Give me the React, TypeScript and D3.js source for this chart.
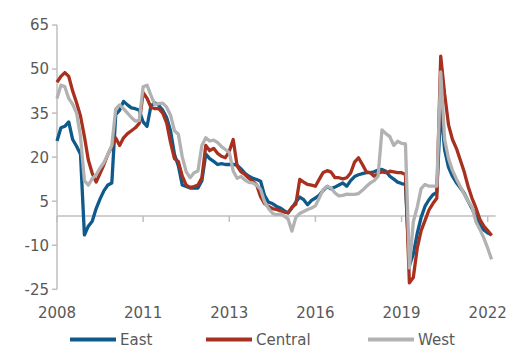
import * as d3 from "d3"

// regional series, one value per step along the x axis
const east = [25.5, 30, 30.5, 32, 26, 23.7, 21, -6.5, -3.5, -1.8,
  2.5, 5.8, 8.6, 10.5, 11.2, 34.5, 36, 39, 37.8, 36.8,
  36.5, 36, 32, 30.5, 37.5, 38.5, 37.6, 36, 33.5, 29,
  21, 17, 10.5, 10, 9.5, 9.5, 9.5, 12, 21, 19.5,
  18.6, 17.5, 17.8, 17.5, 17.5, 17.5, 17.3, 16, 14.5, 13.5,
  12.8, 12.4, 11.8, 7, 4.7, 4.2, 3.3, 2.7, 1.8, 1,
  2.7, 4.7, 6.4, 5.5, 3.8, 5.3, 6.1, 7.1, 8.7, 10,
  9.2, 9.8, 10.5, 11.2, 10.1, 12, 13.4, 14, 14.4, 14.7,
  14.7, 15, 15.6, 15.8, 15.2, 13.5, 12.5, 11.5, 11, 10.7,
  -17, -13, -6, -0.5, 3.3, 5.5, 7.2, 8, 36.8, 22.5,
  16.5, 13.5, 11.3, 9.6, 7.7, 5, 2.5, -0.3, -3.2, -4.8, -5.8, -6.4]

const central = [45.5, 47.5, 48.8, 47.5, 42.5, 38.5, 34, 27, 19, 14.5,
  11.5, 14.5, 17.5, 21, 23.5, 26.5, 24, 26.6, 28, 29,
  30, 31.5, 42, 40, 37, 36.5, 36.5, 35, 31.7, 25,
  19.5, 18.5, 13.5, 10.5, 9.7, 10, 10.5, 13, 24, 22.2,
  23, 21.3, 20.3, 19.8, 22, 26, 17, 15, 14.1, 12.8,
  11.8, 10.5, 6.5, 4.2, 3.2, 2.5, 2.2, 1.8, 1.3, 1,
  3, 4, 12.4, 11.5, 10.7, 10.5, 10.1, 12.5, 14.8, 15.4,
  14.9, 13, 13, 12.6, 13, 14.6, 18.3, 19.8, 17.5, 15,
  14.7, 13.5, 14.5, 15, 14.7, 15.2, 15, 14.7, 14.7, 14.1,
  -22.8, -21, -11, -5, -1.5, 2, 4.2, 6, 54.4, 41.5,
  31, 26, 23, 19, 15, 10, 6, 2.7, -1.2, -3.5, -5, -6.7]

const west = [40, 44.5, 44, 40, 38, 35, 27, 12, 10.5, 12.7,
  14, 16.3, 18.2, 21, 24, 36.4, 37.8, 36.5, 35, 33.5,
  32.3, 32.5, 44, 44.5, 41, 37.8, 38.2, 38.4, 37, 34.3,
  29, 27.8, 20, 15, 13, 14.7, 15.3, 24, 26.6, 25.5,
  25.8, 25, 23.6, 22.6, 21.6, 15.3, 12.8, 13.4, 12.2, 11.4,
  11.2, 10.5, 9, 4.8, 2.6, 0.9, 0.4, 0.6, 0, -1,
  -5.2, -0.5, 0.8, 1.5, 2.2, 2.7, 3.4, 6.2, 9, 10.1,
  9.5, 7.8, 6.8, 7, 7.4, 7.3, 7.3, 7.6, 8.7, 10,
  11.2, 12, 13.5, 29.3, 28, 27, 24, 25.4, 24.7, 24.5,
  -17.7, -2, 3, 9.3, 10.7, 10.1, 10.1, 10.1, 49, 26,
  19.5, 15.5, 12.6, 10, 7.4, 5, 3, -2, -4.6, -7.5, -11, -14.8]

const xTickIdx = [0, 22, 44, 66, 88, 110]
const xTickLabels = ["2008", "2011", "2013", "2016", "2019", "2022"]
const yTicks = [-25, -10, 5, 20, 35, 50, 65]

const seriesNames = ["East", "Central", "West"]
const seriesColors = ["#0d5a8b", "#a8301f", "#b2b2b2"]

const W = 520
const H = 354
const font = "'DejaVu Sans', Verdana, sans-serif"

export default function App() {
  const x = d3.scaleLinear().domain([0, 110]).range([57, 487.7])
  const y = d3.scaleLinear().domain([-25, 65]).range([289.3, 25])

  const line = d3
    .line<number>()
    .x((_, i) => x(i))
    .y((d) => y(d))

  const all = [east, central, west]
  const legendX = [70, 206, 368]

  return (
    <div style={{ position: "absolute", left: 0, top: 0 }}>
      <svg width={W} height={H} style={{ display: "block", background: "#fff" }}>
        {/* y axis */}
        <line x1={x(0)} x2={x(0)} y1={y(65)} y2={y(-25)} stroke="#bfbfbf" strokeWidth={1.5} />
        {yTicks.map((t) => (
          <g key={t}>
            <line x1={x(0) - 5} x2={x(0)} y1={y(t)} y2={y(t)} stroke="#bfbfbf" strokeWidth={1.5} />
            <text
              x={x(0) - 8}
              y={y(t)}
              dy="0.36em"
              textAnchor="end"
              fontFamily={font}
              fontSize={15}
              fill="#595959"
            >
              {t}
            </text>
          </g>
        ))}

        {/* zero line with ticks */}
        <line x1={x(0)} x2={x(111) + 4} y1={y(0)} y2={y(0)} stroke="#bfbfbf" strokeWidth={1.5} />
        {xTickIdx.map((t, i) => (
          <g key={t}>
            <line x1={x(t)} x2={x(t)} y1={y(0)} y2={y(0) + 6} stroke="#bfbfbf" strokeWidth={1.5} />
            <text
              x={x(t)}
              y={318}
              textAnchor="middle"
              fontFamily={font}
              fontSize={15}
              fill="#595959"
            >
              {xTickLabels[i]}
            </text>
          </g>
        ))}

        {/* series */}
        {all.map((s, i) => (
          <path
            key={seriesNames[i]}
            d={line(s) || ""}
            fill="none"
            stroke={seriesColors[i]}
            strokeWidth={3.3}
            strokeLinejoin="round"
          />
        ))}

        {/* legend */}
        {seriesNames.map((n, i) => (
          <g key={n}>
            <line
              x1={legendX[i]}
              x2={legendX[i] + 46}
              y1={339.5}
              y2={339.5}
              stroke={seriesColors[i]}
              strokeWidth={4}
            />
            <text
              x={legendX[i] + 50}
              y={345}
              fontFamily={font}
              fontSize={15}
              fill="#595959"
            >
              {n}
            </text>
          </g>
        ))}
      </svg>
    </div>
  )
}
